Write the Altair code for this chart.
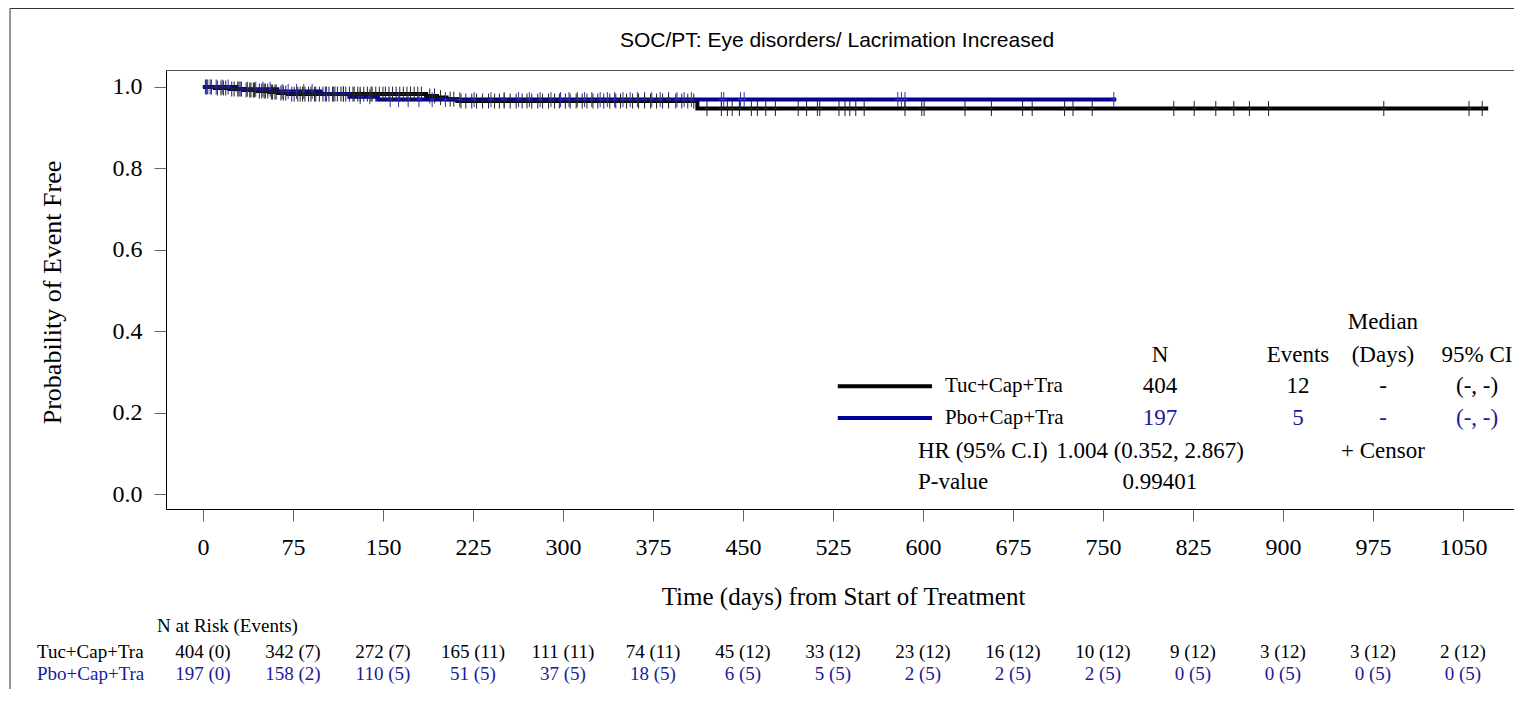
import altair as alt
import pandas as pd
import numpy as np

# ---- Kaplan-Meier step curves ----
tuc_t = [0, 10, 22, 34, 45, 55, 63, 71, 186, 195, 203, 212, 412, 1071]
tuc_s = [1.0, 0.9975, 0.995, 0.9925, 0.990, 0.9875, 0.985, 0.9825, 0.978, 0.974, 0.970, 0.9655, 0.947, 0.947]
pbo_t = [0, 28, 62, 98, 122, 146, 761]
pbo_s = [1.0, 0.9945, 0.989, 0.983, 0.976, 0.969, 0.969]

# ---- censor times ----
tuc_cens = [2, 4, 7, 12, 15, 17, 19, 24, 26, 29, 30, 32, 36, 39, 40, 42, 43, 47, 49, 51, 52, 54, 57, 58,
            60, 61, 65, 67, 69, 74, 76, 79, 81, 83, 85, 88, 90, 93, 94, 97, 100, 102, 105, 108, 109, 112,
            115, 117, 119, 122, 125, 126, 129, 131, 134, 137, 140, 141, 144, 147, 150, 152, 155, 158, 161,
            164, 167, 170, 173, 176, 179, 182, 189, 193, 198, 206, 209, 215, 219, 224, 228, 233, 238, 243,
            247, 251, 256, 261, 266, 270, 274, 279, 283, 288, 293, 297, 302, 306, 311, 316, 320, 325, 329,
            334, 339, 344, 348, 353, 358, 363, 368, 373, 378, 383, 388, 394, 399, 404, 409,
            420, 432, 437, 441, 447, 457, 462, 469, 477, 496, 503, 512, 514, 530, 535, 539, 544, 551,
            585, 599, 601, 635, 657, 683, 691, 718, 725, 741, 809, 826, 844, 859, 872, 888, 984, 1055, 1066]
pbo_cens = [3, 6, 11, 16, 21, 31, 37, 44, 50, 56, 66, 71, 78, 84, 91, 103, 110, 117, 131, 139, 156, 163,
            171, 180, 191, 202, 214, 226, 240, 251, 263, 272, 281, 290, 298, 305, 312, 318, 324, 331, 337,
            343, 350, 356, 362, 368, 374, 381, 388, 395, 401, 407, 432, 434, 448, 451, 579, 582, 585, 759]

# ---- axes ----
x_ticks = [0, 75, 150, 225, 300, 375, 450, 525, 600, 675, 750, 825, 900, 975, 1050]
y_ticks = [0.0, 0.2, 0.4, 0.6, 0.8, 1.0]

# ---- at-risk table ----
risk_tuc = ["404 (0)", "342 (7)", "272 (7)", "165 (11)", "111 (11)", "74 (11)", "45 (12)", "33 (12)",
            "23 (12)", "16 (12)", "10 (12)", "9 (12)", "3 (12)", "3 (12)", "2 (12)"]
risk_pbo = ["197 (0)", "158 (2)", "110 (5)", "51 (5)", "37 (5)", "18 (5)", "6 (5)", "5 (5)",
            "2 (5)", "2 (5)", "2 (5)", "0 (5)", "0 (5)", "0 (5)", "0 (5)"]

# ---- legend / statistics table ----
groups = ["Tuc+Cap+Tra", "Pbo+Cap+Tra"]
grp_n = ["404", "197"]
grp_events = ["12", "5"]
grp_median = ["-", "-"]
grp_ci = ["(-, -)", "(-, -)"]
hr_text = "1.004 (0.352, 2.867)"
p_text = "0.99401"
title_text = "SOC/PT: Eye disorders/ Lacrimation Increased"

BLACK = "#000000"
BLUE = "#000099"
BLUE_TXT = "#1a1a9c"
SERIF = "Liberation Serif"

XD = [-30.8, 1092.5]
YD = [-0.0368, 1.0417]
W, H = 1348, 439


def step_at(times, surv, t):
    i = np.searchsorted(np.array(times), t, side="right") - 1
    return float(np.array(surv)[i])


tuc_df = pd.DataFrame({"t": tuc_t, "s": tuc_s})
pbo_df = pd.DataFrame({"t": pbo_t, "s": pbo_s})
tuc_c = pd.DataFrame({"t": tuc_cens, "s": [step_at(tuc_t, tuc_s, t) for t in tuc_cens]})
pbo_c = pd.DataFrame({"t": pbo_cens, "s": [step_at(pbo_t, pbo_s, t) for t in pbo_cens]})

xs = alt.Scale(domain=XD, nice=False, zero=False)
ys = alt.Scale(domain=YD, nice=False, zero=False)

x_enc = alt.X("t:Q", scale=xs, axis=alt.Axis(
    values=x_ticks, format="d", title="Time (days) from Start of Treatment", labelPadding=14,
    titleFontSize=25, titleX=677, titleY=87, titleBaseline="middle", titleAlign="center",
    labelOverlap=False, labelFlush=False))
y_enc = alt.Y("s:Q", scale=ys, axis=alt.Axis(
    values=y_ticks, format=".1f", title="Probability of Event Free", labelPadding=12,
    titleFontSize=26, titleX=-114, titleY=222, titleAngle=270, titleBaseline="middle", titleAlign="center"))

line_tuc = alt.Chart(tuc_df).mark_line(interpolate="step-after", color=BLACK, strokeWidth=4).encode(x=x_enc, y=y_enc)
line_pbo = alt.Chart(pbo_df).mark_line(interpolate="step-after", color=BLUE, strokeWidth=4).encode(x="t:Q", y="s:Q")

plus = "M0,-1V1M-0.4,0H0.4"
cens_pbo = alt.Chart(pbo_c).mark_point(shape=plus, size=225, filled=False, strokeWidth=1, color="#3030b0", opacity=1).encode(x="t:Q", y="s:Q")
cens_tuc = alt.Chart(tuc_c).mark_point(shape=plus, size=225, filled=False, strokeWidth=1, color="#222222", opacity=1).encode(x="t:Q", y="s:Q")

# legend table (positions in data units)
col_n, col_ev, col_med, col_ci = 797.5, 912.5, 983.3, 1061.7
row_y = [0.265, 0.1865]
center_cells = pd.DataFrame({
    "t": [col_med, col_n, col_ev, col_med, col_ci] + [col_n] * 2 + [col_ev] * 2 + [col_med] * 2 + [col_ci] * 2
         + [col_med, col_n],
    "s": [0.422, 0.341, 0.341, 0.341, 0.341] + row_y * 4 + [0.1055, 0.0294],
    "txt": ["Median", "N", "Events", "(Days)", "95% CI"] + grp_n + grp_events + grp_median + grp_ci
           + ["+ Censor", p_text],
    "c": [BLACK] * 5 + [BLACK, BLUE_TXT] * 4 + [BLACK] * 2,
})
left_cells = pd.DataFrame({
    "t": [595.8, 595.8, 711.0],
    "s": [0.1055, 0.0294, 0.1055],
    "txt": ["HR (95% C.I)", "P-value", hr_text],
    "c": [BLACK] * 3,
})
group_cells = pd.DataFrame({"t": [618.3, 618.3], "s": row_y, "txt": groups, "c": [BLACK, BLACK]})
leg_lines = pd.DataFrame({"t": [529.0, 529.0], "t2": [607.5, 607.5], "s": row_y, "c": [BLACK, BLUE]})

txt_c = alt.Chart(center_cells).mark_text(font=SERIF, fontSize=23, align="center", baseline="middle").encode(
    x="t:Q", y="s:Q", text="txt:N", color=alt.Color("c:N", scale=None))
txt_l = alt.Chart(left_cells).mark_text(font=SERIF, fontSize=23, align="left", baseline="middle").encode(
    x="t:Q", y="s:Q", text="txt:N", color=alt.Color("c:N", scale=None))
txt_g = alt.Chart(group_cells).mark_text(font=SERIF, fontSize=21, align="left", baseline="middle").encode(
    x="t:Q", y="s:Q", text="txt:N", color=alt.Color("c:N", scale=None))
lines_l = alt.Chart(leg_lines).mark_rule(strokeWidth=4).encode(
    x="t:Q", x2="t2:Q", y="s:Q", color=alt.Color("c:N", scale=None))

# at-risk table
risk_df = pd.DataFrame({"t": x_ticks, "a": risk_tuc, "b": risk_pbo})
risk_a = alt.Chart(risk_df).mark_text(font=SERIF, fontSize=19, align="center", baseline="middle", color=BLACK).encode(
    x="t:Q", y=alt.value(582), text="a:N")
risk_b = alt.Chart(risk_df).mark_text(font=SERIF, fontSize=19, align="center", baseline="middle", color=BLUE_TXT).encode(
    x="t:Q", y=alt.value(604), text="b:N")
risk_lab = pd.DataFrame({"txt": ["N at Risk (Events)", groups[0], groups[1]],
                         "c": [BLACK, BLACK, BLUE_TXT],
                         "row": [0, 1, 2]})
risk_head = alt.Chart(risk_lab[risk_lab.row == 0]).mark_text(font=SERIF, fontSize=19, align="left", baseline="middle").encode(
    x=alt.value(-9), y=alt.value(556), text="txt:N", color=alt.Color("c:N", scale=None))
risk_r1 = alt.Chart(risk_lab[risk_lab.row == 1]).mark_text(font=SERIF, fontSize=19, align="left", baseline="middle").encode(
    x=alt.value(-129), y=alt.value(582), text="txt:N", color=alt.Color("c:N", scale=None))
risk_r2 = alt.Chart(risk_lab[risk_lab.row == 2]).mark_text(font=SERIF, fontSize=19, align="left", baseline="middle").encode(
    x=alt.value(-129), y=alt.value(604), text="txt:N", color=alt.Color("c:N", scale=None))

# chart title as text
title_df = pd.DataFrame({"txt": [title_text]})
title_mark = alt.Chart(title_df).mark_text(font="Liberation Sans", fontSize=21, align="center",
                                           baseline="alphabetic", color=BLACK).encode(
    x=alt.value(671), y=alt.value(-23), text="txt:N")

# outer frame
one = pd.DataFrame({"k": [0]})
frame_top = alt.Chart(one).mark_rule(color="#333333", strokeWidth=1).encode(
    x=alt.value(-156), x2=alt.value(W + 10), y=alt.value(-61.5))
frame_left = alt.Chart(one).mark_rule(color="#333333", strokeWidth=1).encode(
    x=alt.value(-156), y=alt.value(-61.5), y2=alt.value(700))

chart = alt.layer(
    frame_top, frame_left,
    line_tuc, line_pbo, cens_pbo, cens_tuc,
    lines_l, txt_c, txt_l, txt_g,
    risk_head, risk_r1, risk_r2, risk_a, risk_b, title_mark,
).properties(
    width=W, height=H,
    padding={"left": 158, "top": 62, "right": 0, "bottom": 180},
    autosize=alt.AutoSizeParams(type="none"),
).configure_view(
    stroke="#555555", strokeWidth=1
).configure_axis(
    labelFont=SERIF, labelFontSize=24, labelColor=BLACK,
    titleFont=SERIF, titleFontSize=24, titleFontWeight="normal", titleColor=BLACK,
    domainColor=BLACK, domainWidth=1, tickColor="#666666", tickSize=12, tickWidth=1, grid=False,
)

chart.save("out.html", embed_options={"renderer": "svg", "actions": False})
